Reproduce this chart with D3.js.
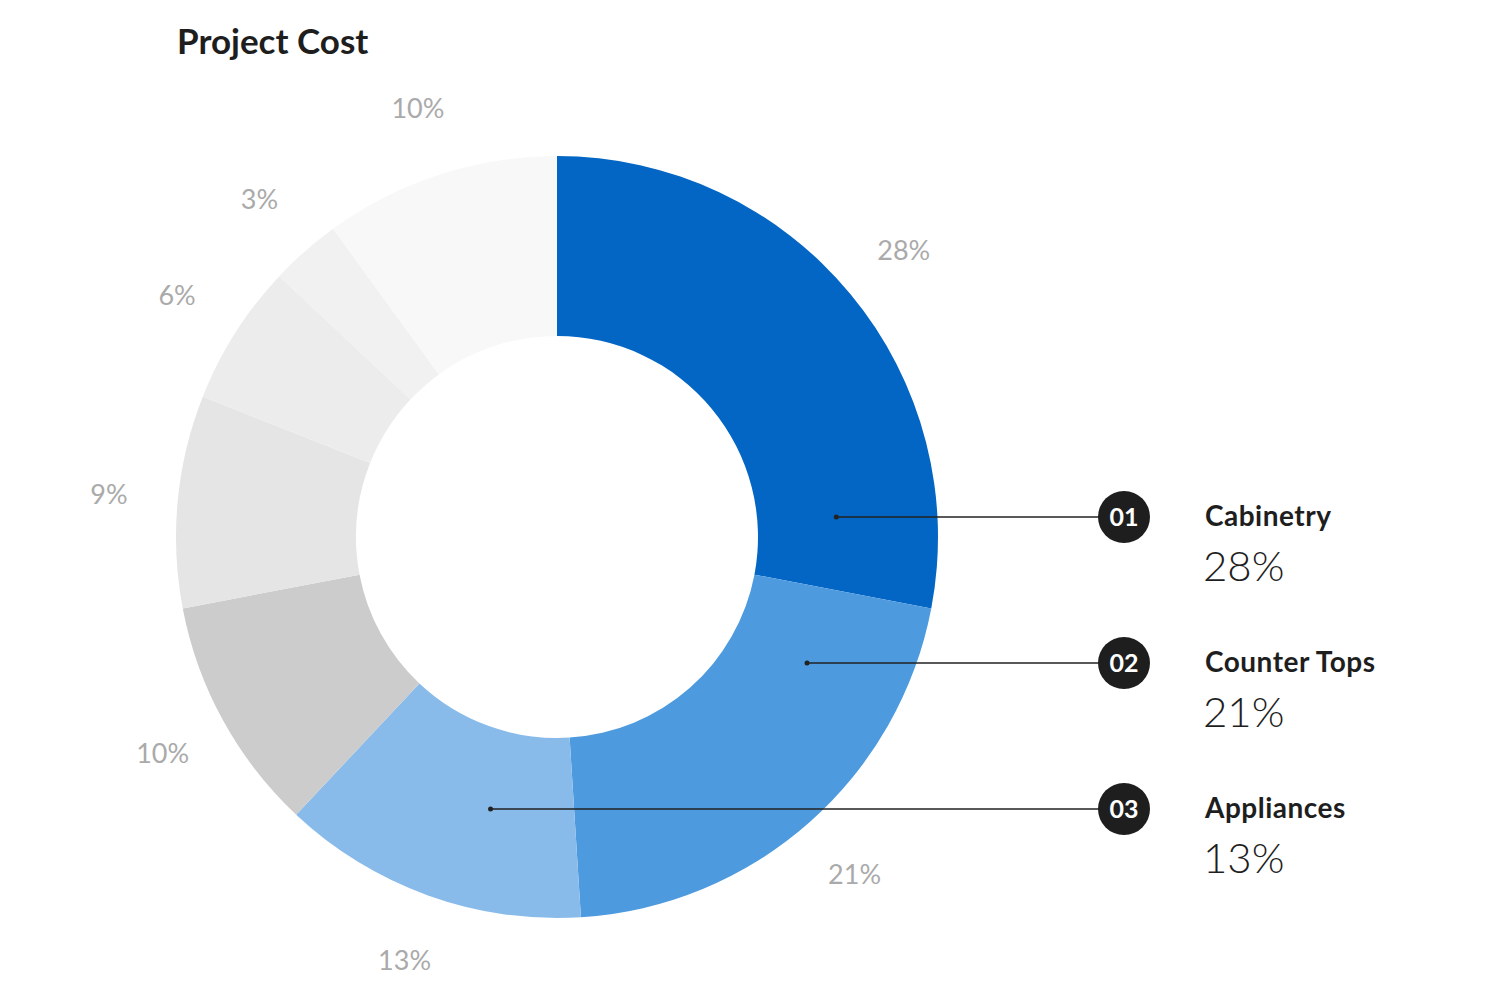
<!DOCTYPE html>
<html><head><meta charset="utf-8">
<script src="https://cdn.jsdelivr.net/npm/d3@7"></script>
<style>body{margin:0;background:#fff;font-family:Lato,"Open Sans",sans-serif}</style>
</head><body>
<svg id="c" width="1500" height="1000"></svg>
<script>
const values = [28, 21, 13, 10, 9, 6, 3, 10];
const colors = ["#0366c4", "#4d9ade", "#88bbea", "#cccccc", "#e4e5e4", "#ececec", "#f1f1f1", "#f8f8f8"];
const calloutNames = ["Cabinetry", "Counter Tops", "Appliances"];
const calloutNums = ["01", "02", "03"];

const svg = d3.select("#c");
const cx = 557, cy = 537, R = 381, r = 201;
svg.append("text").attr("x", 177).attr("y", 54).attr("font-size", 35).attr("font-weight", 700)
  .attr("fill", "#1e1e1e").text("Project Cost");

const pie = d3.pie().sort(null)(values);
const arc = d3.arc().innerRadius(r).outerRadius(R);
const g = svg.append("g").attr("transform", `translate(${cx},${cy})`);
g.selectAll("path").data(pie).join("path").attr("d", arc).attr("fill", (d, i) => colors[i]);
const lab = d3.arc().innerRadius(450).outerRadius(450);
g.selectAll("text.l").data(pie).join("text").attr("class", "l")
  .attr("transform", d => `translate(${lab.centroid(d)})`)
  .attr("text-anchor", "middle").attr("dy", "0.35em")
  .attr("font-size", 27).attr("fill", "#aaaaaa").text(d => d.data + "%");

const rowY = d3.scaleLinear().domain([0, 1]).range([517, 663]);
calloutNames.forEach((name, i) => {
  const y = rowY(i), dy = y - cy;
  const mid = (pie[i].startAngle + pie[i].endAngle) / 2;
  const sgn = Math.sin(mid) >= 0 ? 1 : -1;
  const dx = sgn * Math.sqrt(Math.max(0, 280 * 280 - dy * dy));
  const x0 = cx + dx;
  svg.append("line").attr("x1", x0).attr("x2", 1124).attr("y1", y).attr("y2", y)
    .attr("stroke", "#222").attr("stroke-width", 1.5);
  svg.append("circle").attr("cx", x0).attr("cy", y).attr("r", 2.5).attr("fill", "#222");
  svg.append("circle").attr("cx", 1124).attr("cy", y).attr("r", 26).attr("fill", "#1e1e1e");
  svg.append("text").attr("x", 1124).attr("y", y + 9).attr("text-anchor", "middle")
    .attr("font-size", 25).attr("font-weight", 700).attr("fill", "#fff").text(calloutNums[i]);
  svg.append("text").attr("x", 1205).attr("y", y + 9).attr("font-size", 28).attr("font-weight", 700)
    .attr("fill", "#1e1e1e").attr("letter-spacing", 0.5).text(name);
  svg.append("text").attr("x", 1203).attr("y", y + 64).attr("font-size", 42).attr("font-weight", 300)
    .attr("fill", "#1e1e1e").text(values[i] + "%");
});
</script>
</body></html>
